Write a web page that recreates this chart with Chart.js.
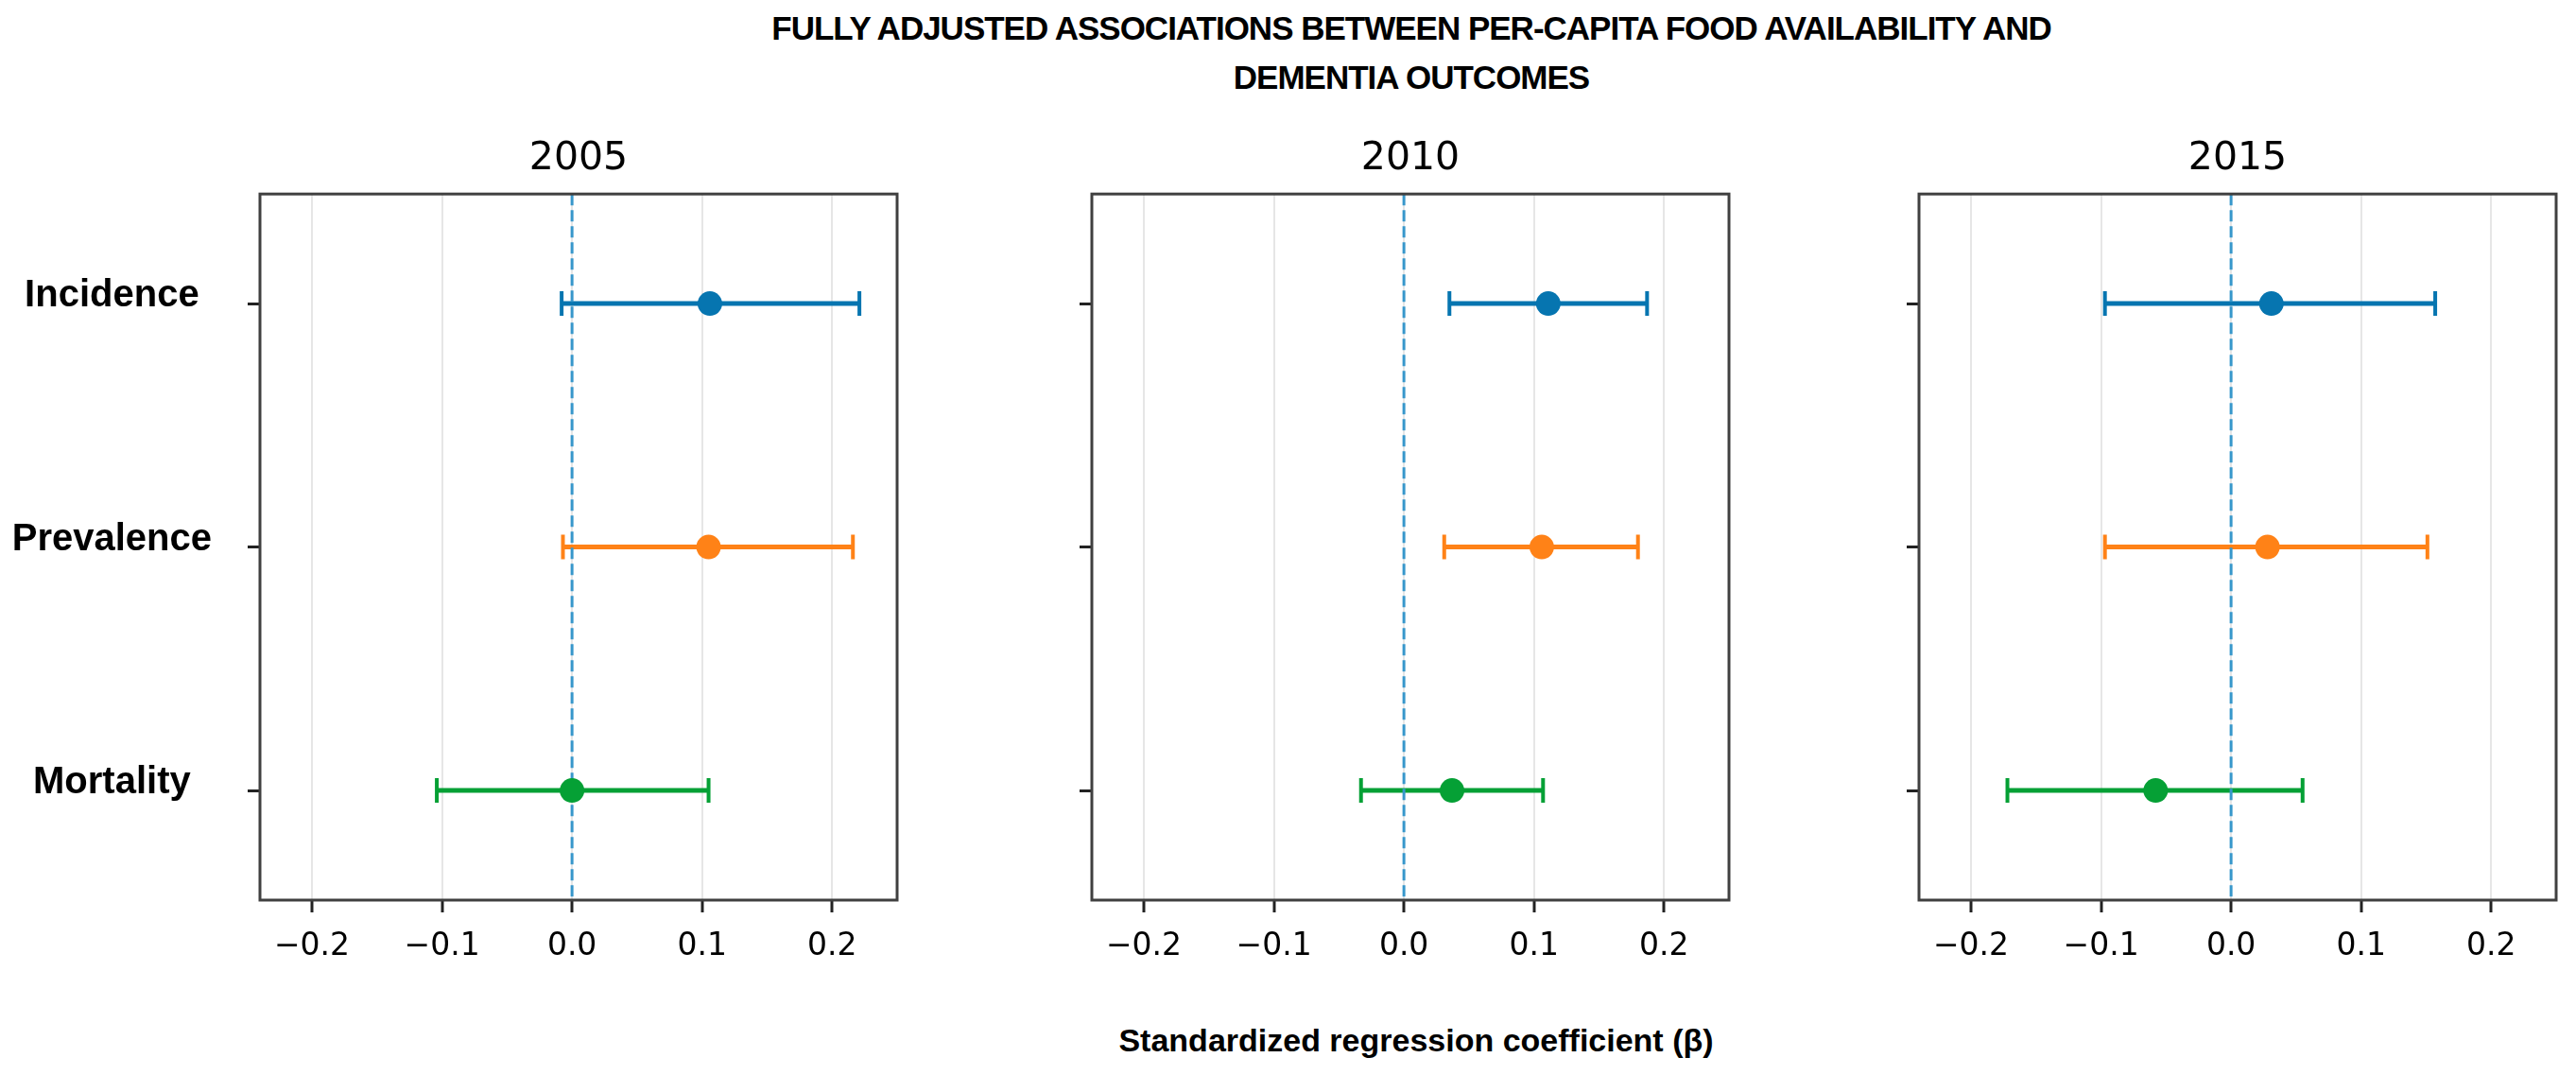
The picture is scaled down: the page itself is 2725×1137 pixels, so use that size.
<!DOCTYPE html>
<html>
<head>
<meta charset="utf-8">
<title>Fully adjusted associations between per-capita food availability and dementia outcomes</title>
<script src="https://cdn.jsdelivr.net/npm/chart.js@4.4.1/dist/chart.umd.min.js"></script>
<style>
  body {
    margin: 0;
    background: #fff;
    width: 2725px;
    height: 1137px;
    position: relative;
    overflow: hidden;
  }
  .main-title {
    position: absolute;
    top: 4px;
    left: 493px;
    width: 2000px;
    text-align: center;
    font-family: 'Liberation Sans', Arial, sans-serif;
    font-weight: bold;
    font-size: 35px;
    line-height: 52px;
    letter-spacing: -1px;
    color: #000;
  }
  .x-title {
    position: absolute;
    top: 1080px;
    left: 998px;
    width: 1000px;
    text-align: center;
    font-family: 'Liberation Sans', Arial, sans-serif;
    font-weight: bold;
    font-size: 34px;
    line-height: 40px;
    color: #000;
  }
  canvas {
    position: absolute;
  }
</style>
</head>
<body>

<div class="main-title">FULLY ADJUSTED ASSOCIATIONS BETWEEN PER-CAPITA FOOD AVAILABILITY AND<br>DEMENTIA OUTCOMES</div>

<canvas id="panel_2005"></canvas>
<canvas id="panel_2010"></canvas>
<canvas id="panel_2015"></canvas>

<div class="x-title">Standardized regression coefficient (β)</div>

<script>
'use strict';

const categories = ['Incidence', 'Prevalence', 'Mortality'];
const years = ['2005', '2010', '2015'];
const seriesColors = ['#0675B0', '#FF8217', '#05A035'];

// standardized beta and 95% CI
const beta2005 = [0.106, 0.105, 0.000];
const lower2005 = [-0.008, -0.007, -0.104];
const upper2005 = [0.221, 0.216, 0.105];

const beta2010 = [0.111, 0.106, 0.037];
const lower2010 = [0.035, 0.031, -0.033];
const upper2010 = [0.187, 0.180, 0.107];

const beta2015 = [0.031, 0.028, -0.058];
const lower2015 = [-0.097, -0.097, -0.172];
const upper2015 = [0.157, 0.151, 0.055];

const tickValues = [-0.2, -0.1, 0.0, 0.1, 0.2];
const tickLabels = ['\u22120.2', '\u22120.1', '0.0', '0.1', '0.2'];

const xMin = -0.24;
const xMax = 0.25;
const yMin = -0.45;
const yMax = 2.45;


// where each panel sits on the page
const panelLayout = [
  { id: 'panel_2005', left: 0, axisWidth: 275, labels: true },
  { id: 'panel_2010', left: 1095, axisWidth: 60, labels: false },
  { id: 'panel_2015', left: 1970, axisWidth: 60, labels: false }
];
const plotWidth = 685;
const rightPad = 6;
const canvasTop = 120;
const canvasHeight = 910;
const xAxisHeight = 78;

const panelData = [
  [beta2005, lower2005, upper2005],
  [beta2010, lower2010, upper2010],
  [beta2015, lower2015, upper2015]
];


// dashed reference line at beta = 0, painted just under the dots
const zeroLinePlugin = {
  id: 'zeroLine',
  beforeDatasetDraw(chart, args) {
    if (args.index !== chart.data.datasets.length - 1) {
      return;
    }
    const ctx = chart.ctx;
    const area = chart.chartArea;
    const x = chart.scales.x.getPixelForValue(0);
    ctx.save();
    ctx.strokeStyle = '#3797CB';
    ctx.lineWidth = 3;
    ctx.setLineDash([12, 5]);
    ctx.beginPath();
    ctx.moveTo(x, area.top);
    ctx.lineTo(x, area.bottom);
    ctx.stroke();
    ctx.restore();
  }
};

// box around the plotting area
const framePlugin = {
  id: 'frame',
  afterDraw(chart) {
    const ctx = chart.ctx;
    const area = chart.chartArea;
    ctx.save();
    ctx.strokeStyle = '#404040';
    ctx.lineWidth = 3;
    ctx.strokeRect(area.left, area.top, area.right - area.left, area.bottom - area.top);
    ctx.restore();
  }
};


function buildDatasets(beta, lower, upper) {
  const datasets = [];

  // error bars with caps
  for (let i = 0; i < categories.length; i++) {
    datasets.push({
      label: categories[i] + ' CI',
      data: [{ x: lower[i], y: i }, { x: upper[i], y: i }],
      showLine: true,
      borderColor: seriesColors[i],
      borderWidth: 5,
      pointStyle: 'line',
      pointRotation: 90,
      pointRadius: 13,
      pointBorderWidth: 4,
      pointBorderColor: seriesColors[i],
      order: 2
    });
  }

  // point estimates
  datasets.push({
    label: 'beta',
    data: beta.map((b, i) => ({ x: b, y: i })),
    pointRadius: 13,
    pointBackgroundColor: seriesColors,
    pointBorderWidth: 0,
    order: 0
  });

  return datasets;
}


function renderPanel(layout, year, data) {
  const canvas = document.getElementById(layout.id);
  const width = layout.axisWidth + plotWidth + rightPad;
  canvas.width = width;
  canvas.height = canvasHeight;
  canvas.style.left = layout.left + 'px';
  canvas.style.top = canvasTop + 'px';
  canvas.style.width = width + 'px';
  canvas.style.height = canvasHeight + 'px';

  return new Chart(canvas.getContext('2d'), {
    type: 'scatter',
    data: {
      datasets: buildDatasets(data[0], data[1], data[2])
    },
    options: {
      responsive: false,
      animation: false,
      devicePixelRatio: 1,
      layout: { padding: { right: rightPad } },
      plugins: {
        legend: { display: false },
        tooltip: { enabled: false },
        title: {
          display: true,
          fullSize: false,
          text: year,
          color: '#000',
          font: { family: 'DejaVu Sans', size: 41, weight: 'normal' },
          padding: { top: 24, bottom: 12 }
        }
      },
      scales: {
        x: {
          type: 'linear',
          min: xMin,
          max: xMax,
          afterBuildTicks: scale => {
            scale.ticks = tickValues.map(v => ({ value: v }));
          },
          afterFit: scale => {
            scale.height = xAxisHeight;
          },
          ticks: {
            callback: (value, index) => tickLabels[index],
            color: '#000',
            font: { family: 'DejaVu Sans', size: 33 },
            padding: 17,
            maxRotation: 0,
            autoSkip: false
          },
          grid: {
            color: '#e6e6e6',
            lineWidth: 2,
            tickColor: '#222',
            tickWidth: 3,
            tickLength: 13
          },
          border: { display: false }
        },
        y: {
          type: 'linear',
          min: yMin,
          max: yMax,
          reverse: true,
          afterBuildTicks: scale => {
            scale.ticks = categories.map((c, i) => ({ value: i }));
          },
          afterFit: scale => {
            scale.width = layout.axisWidth;
          },
          ticks: {
            callback: (value, index) => layout.labels ? categories[index] : '',
            crossAlign: 'center',
            padding: 38,
            labelOffset: -8,
            color: '#000',
            font: { family: "'Liberation Sans', Arial, sans-serif", weight: 'bold', size: 40 },
            autoSkip: false
          },
          grid: {
            drawOnChartArea: false,
            tickColor: '#222',
            tickWidth: 3,
            tickLength: 13
          },
          border: { display: false }
        }
      }
    },
    plugins: [zeroLinePlugin, framePlugin]
  });
}


for (let p = 0; p < panelLayout.length; p++) {
  renderPanel(panelLayout[p], years[p], panelData[p]);
}
</script>
</body>
</html>
